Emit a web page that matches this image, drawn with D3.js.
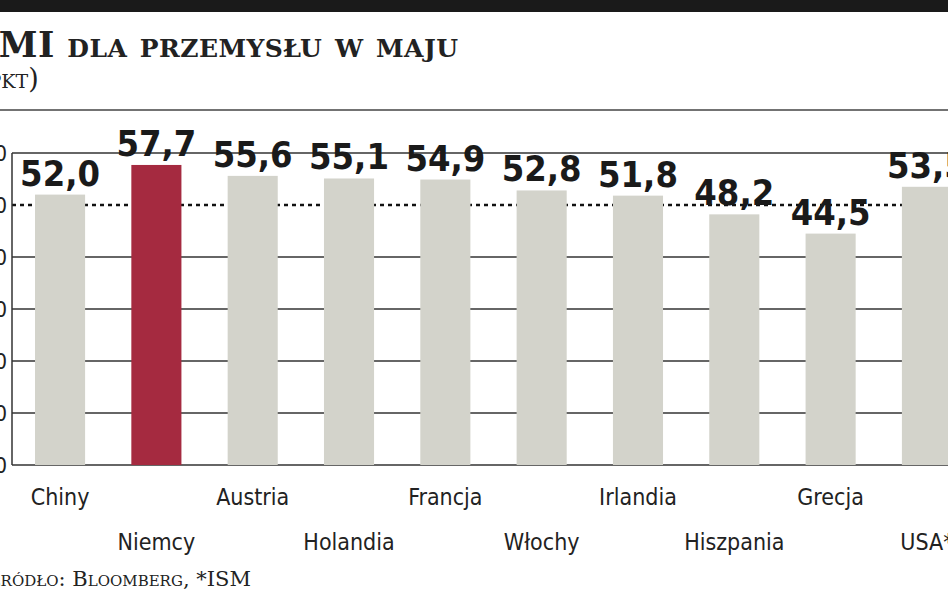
<!DOCTYPE html><html><head><meta charset="utf-8">
<script src="https://cdn.jsdelivr.net/npm/d3@7"></script>
<style>body{margin:0;background:#fff;overflow:hidden}</style></head><body>
<svg id="c" width="948" height="593"></svg>
<script>
const categories=["Chiny","Niemcy","Austria","Holandia","Francja","Włochy","Irlandia","Hiszpania","Grecja","USA*"];
const values=[52.0,57.7,55.6,55.1,54.9,52.8,51.8,48.2,44.5,53.5];
const highlight="Niemcy";
const yTicks=[0,10,20,30,40,50,60];
const refLine=50;
const svg=d3.select("#c");
svg.append("rect").attr("x",0).attr("y",0).attr("width",948).attr("height",12).attr("fill","#1a1a1a");
svg.append("text").attr("x",-28).attr("y",57).attr("font-family","DejaVu Serif").attr("font-weight","bold")
 .attr("font-size",35).attr("textLength",486).style("font-variant","small-caps").attr("fill","#222").text("PMI dla przemysłu w maju");
svg.append("text").attr("x",-22).attr("y",88).attr("font-family","DejaVu Serif").attr("font-size",27)
 .attr("fill","#222").text("(pkt)").style("font-variant","small-caps");
svg.append("line").attr("x1",0).attr("x2",948).attr("y1",110).attr("y2",110).attr("stroke","#444").attr("stroke-width",1.5);
const x=d3.scaleBand().domain(categories).range([12,975]).paddingInner(0.48).paddingOuter(0.239);
const y=d3.scaleLinear().domain([0,60]).range([465,153]);
const g=svg.append("g");
yTicks.forEach(t=>{
 g.append("line").attr("x1",12).attr("x2",948).attr("y1",y(t)).attr("y2",y(t))
  .attr("stroke",t===refLine?"#111":"#333").attr("stroke-width",t===refLine?2.5:1.5)
  .attr("stroke-dasharray",t===refLine?"4,4":null);
 g.append("text").attr("x",7).attr("y",y(t)+8).attr("text-anchor","end").attr("font-family","DejaVu Sans Condensed")
  .attr("font-size",22).attr("fill","#222").text(t);
});
g.append("line").attr("x1",12).attr("x2",12).attr("y1",153).attr("y2",465).attr("stroke","#333").attr("stroke-width",1.5);
g.selectAll("rect.b").data(categories).join("rect").attr("x",d=>x(d)).attr("width",x.bandwidth())
 .attr("y",(d,i)=>y(values[i])).attr("height",(d,i)=>465-y(values[i]))
 .attr("fill",d=>d===highlight?"#a52a40":"#d3d3cb");
g.selectAll("text.v").data(categories).join("text").attr("x",d=>x(d)+x.bandwidth()/2)
 .attr("y",(d,i)=>y(values[i])-9).attr("text-anchor","middle").attr("font-family","DejaVu Sans Condensed")
 .attr("font-weight","bold").attr("font-size",36).attr("fill","#1a1a1a").text((d,i)=>values[i].toFixed(1).replace(".",","));
g.selectAll("text.c").data(categories).join("text").attr("x",d=>x(d)+x.bandwidth()/2)
 .attr("y",(d,i)=>i%2===0?505:550).attr("text-anchor","middle").attr("font-family","DejaVu Sans Condensed")
 .attr("font-size",23).attr("fill","#222").text(d=>d);
svg.append("text").attr("x",-14).attr("y",586).attr("font-family","DejaVu Serif").attr("font-size",21)
 .style("font-variant","small-caps").attr("fill","#222").text("Źródło: Bloomberg, *ISM");
</script></body></html>
